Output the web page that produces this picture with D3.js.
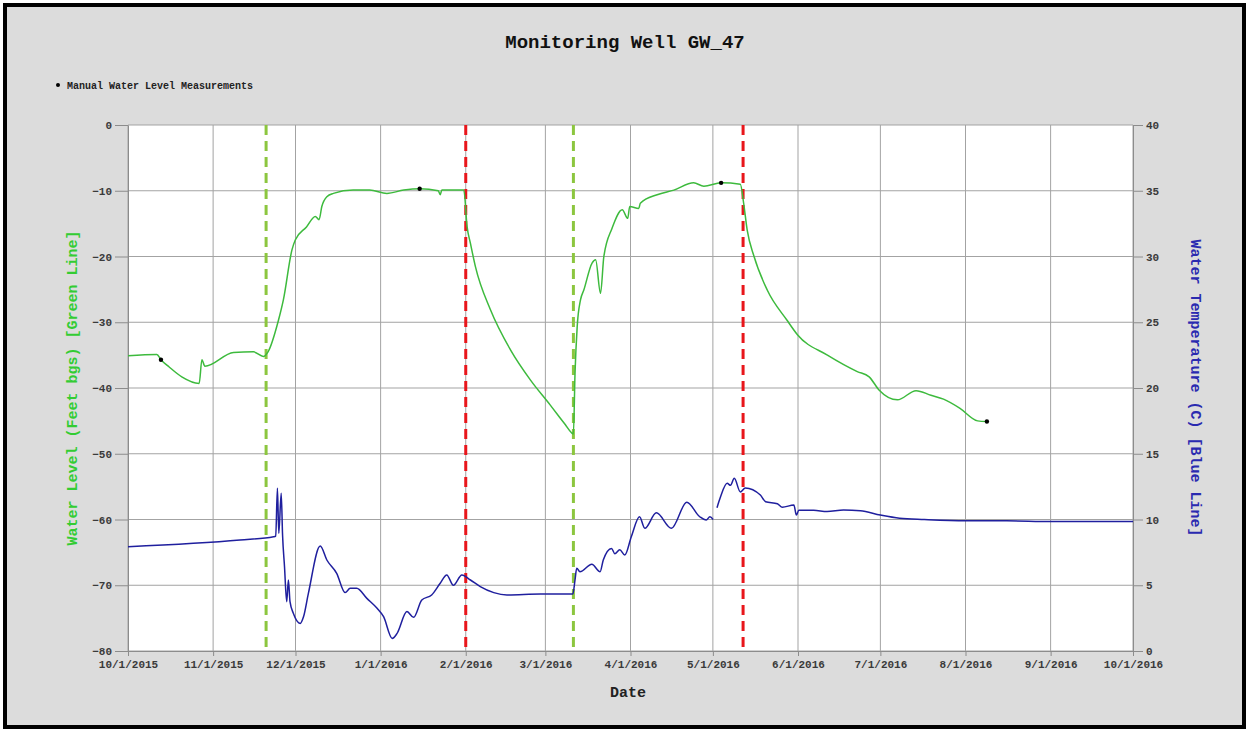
<!DOCTYPE html>
<html>
<head>
<meta charset="utf-8">
<script src="https://cdn.jsdelivr.net/npm/d3@7"></script>
<style>
  body { margin: 0; background: #fff; }
  text { font-family: "Liberation Mono", "DejaVu Sans Mono", monospace; font-weight: bold; }
</style>
</head>
<body>
<figure id="chart" style="margin:0"></figure>
<script>
// water level (feet bgs), green line
const waterLevel = [
  ["2015-10-01 00", -35.1], ["2015-10-11 12", -34.9], ["2015-10-13 00", -35.7], ["2015-10-16 00", -36.8],
  ["2015-10-20 14", -38.3], ["2015-10-26 22", -39.3], ["2015-10-27 22", -35.7], ["2015-10-29 00", -36.7],
  ["2015-11-08 10", -34.6], ["2015-11-15 17", -34.5], ["2015-11-19 07", -35.2], ["2015-11-21 00", -34.5],
  ["2015-11-24 19", -29.7], ["2015-11-26 14", -26.6], ["2015-11-29 17", -19.0], ["2015-11-30 22", -17.5],
  ["2015-12-05 00", -15.5], ["2015-12-08 05", -13.9], ["2015-12-09 14", -14.4], ["2015-12-10 14", -12.4],
  ["2015-12-12 10", -10.9], ["2015-12-14 19", -10.4], ["2015-12-22 00", -9.9], ["2015-12-28 00", -9.9],
  ["2016-01-03 07", -10.4], ["2016-01-09 10", -9.9], ["2016-01-15 05", -9.7], ["2016-01-22 00", -10.0],
  ["2016-01-22 17", -10.6], ["2016-01-23 07", -9.9], ["2016-01-31 07", -9.9], ["2016-02-01 12", -15.5],
  ["2016-02-02 17", -18.0], ["2016-02-04 12", -21.5], ["2016-02-10 00", -28.1], ["2016-02-17 07", -34.2],
  ["2016-02-24 14", -38.8], ["2016-03-02 19", -42.6], ["2016-03-08 07", -45.6], ["2016-03-10 12", -46.8],
  ["2016-03-11 05", -47.0], ["2016-03-11 19", -37.8], ["2016-03-12 14", -30.7], ["2016-03-13 19", -26.6],
  ["2016-03-15 00", -25.1], ["2016-03-18 00", -21.0], ["2016-03-19 07", -20.5], ["2016-03-21 02", -25.6],
  ["2016-03-22 07", -20.0], ["2016-03-25 07", -15.7], ["2016-03-29 00", -12.9], ["2016-03-31 00", -14.2],
  ["2016-03-31 17", -12.4], ["2016-04-04 00", -12.7], ["2016-04-04 14", -11.9], ["2016-04-10 17", -10.6],
  ["2016-04-16 19", -9.9], ["2016-04-24 00", -8.8], ["2016-04-27 17", -9.3], ["2016-05-04 00", -8.8],
  ["2016-05-11 00", -9.0], ["2016-05-12 05", -11.9], ["2016-05-13 12", -16.0], ["2016-05-16 00", -20.0],
  ["2016-05-20 19", -25.1], ["2016-05-28 00", -29.7], ["2016-05-31 19", -31.9], ["2016-06-11 17", -35.0],
  ["2016-06-22 14", -37.5], ["2016-06-26 22", -38.3], ["2016-06-30 12", -40.3], ["2016-07-07 05", -41.8],
  ["2016-07-14 00", -40.4], ["2016-07-19 10", -41.1], ["2016-07-24 00", -41.7], ["2016-07-30 00", -43.1],
  ["2016-08-05 10", -45.0], ["2016-08-08 19", -45.1]
];

// water temperature (C), blue line; null = gap in record
const waterTemp = [
  ["2015-10-01 00", 7.93], ["2015-11-10 19", 8.44], ["2015-11-23 00", 8.69], ["2015-11-23 19", 8.74],
  ["2015-11-24 10", 12.37], ["2015-11-24 22", 8.95], ["2015-11-25 19", 12.0], ["2015-11-26 07", 8.8],
  ["2015-11-27 00", 6.41], ["2015-11-27 19", 3.75], ["2015-11-28 10", 5.4], ["2015-11-29 00", 3.75],
  ["2015-11-30 05", 2.87], ["2015-12-02 17", 2.1], ["2015-12-03 22", 2.6], ["2015-12-05 17", 4.4],
  ["2015-12-10 00", 7.98], ["2015-12-12 10", 6.92], ["2015-12-16 00", 5.91], ["2015-12-19 02", 4.44],
  ["2015-12-20 22", 4.77], ["2015-12-23 07", 4.77], ["2015-12-27 00", 4.0], ["2015-12-30 17", 3.25],
  ["2016-01-02 02", 2.61], ["2016-01-05 05", 0.96], ["2016-01-07 00", 1.34], ["2016-01-10 14", 3.0],
  ["2016-01-13 00", 2.56], ["2016-01-16 00", 3.88], ["2016-01-19 14", 4.26], ["2016-01-22 17", 5.15],
  ["2016-01-25 02", 5.78], ["2016-01-27 12", 5.0], ["2016-01-30 14", 5.78], ["2016-02-02 17", 5.4],
  ["2016-02-06 07", 4.9], ["2016-02-11 05", 4.44], ["2016-02-16 00", 4.26], ["2016-02-28 05", 4.33],
  ["2016-03-11 00", 4.33], ["2016-03-11 19", 5.4], ["2016-03-12 10", 6.29], ["2016-03-13 14", 6.03],
  ["2016-03-17 22", 6.6], ["2016-03-20 22", 6.03], ["2016-03-22 02", 6.92], ["2016-03-25 02", 7.8],
  ["2016-03-26 07", 7.4], ["2016-03-28 02", 7.7], ["2016-03-29 22", 7.3], ["2016-04-01 07", 8.69],
  ["2016-04-04 07", 10.2], ["2016-04-06 05", 9.33], ["2016-04-10 10", 10.51], ["2016-04-15 22", 9.33],
  ["2016-04-21 12", 11.31], ["2016-04-26 05", 10.21], ["2016-04-28 14", 9.96], ["2016-04-29 22", 10.21],
  ["2016-05-01 02", 10.0], ["2016-05-01 20", null], ["2016-05-02 12", 10.9], ["2016-05-03 19", 11.73],
  ["2016-05-06 05", 12.75], ["2016-05-07 10", 12.6], ["2016-05-08 19", 13.13], ["2016-05-11 00", 12.1],
  ["2016-05-12 19", 12.4], ["2016-05-18 07", 11.86], ["2016-05-20 05", 11.35], ["2016-05-24 12", 11.2],
  ["2016-05-26 07", 10.93], ["2016-05-30 12", 11.1], ["2016-05-31 10", 10.34], ["2016-06-01 07", 10.7],
  ["2016-06-06 17", 10.7], ["2016-06-11 14", 10.6], ["2016-06-17 14", 10.72], ["2016-06-23 17", 10.67],
  ["2016-07-01 00", 10.34], ["2016-07-08 00", 10.1], ["2016-07-17 00", 10.0], ["2016-08-01 00", 9.9],
  ["2016-08-16 00", 9.9], ["2016-09-01 00", 9.85], ["2016-09-15 00", 9.85], ["2016-10-01 00", 9.85]
];

const manualMeasurements = [
  ["2015-10-13 00", -35.7], ["2016-01-15 05", -9.7], ["2016-05-04 00", -8.8], ["2016-08-08 19", -45.1]
];

// green = recovery start, red = pumping start
const greenMarkers = ["2015-11-20 07", "2016-03-11 05"];
const redMarkers = ["2016-02-01 00", "2016-05-12 00"];

const levelTicks = [0, -10, -20, -30, -40, -50, -60, -70, -80];
const tempTicks = [40, 35, 30, 25, 20, 15, 10, 5, 0];
const dateDomain = ["2015-10-01 00", "2016-10-01 00"];

const W = 1249, H = 732;
const plot = {left: 128, right: 1133, top: 125, bottom: 651};
const parse = d3.timeParse("%Y-%m-%d %H");

const svg = d3.select("figure#chart")
  .append("svg")
  .attr("width", W)
  .attr("height", H);

// frame
svg.append("rect")
  .attr("x", 5).attr("y", 5)
  .attr("width", W - 10).attr("height", H - 10)
  .attr("fill", "#dcdcdc")
  .attr("stroke", "#000")
  .attr("stroke-width", 4);

svg.append("rect")
  .attr("x", plot.left).attr("y", plot.top)
  .attr("width", plot.right - plot.left).attr("height", plot.bottom - plot.top)
  .attr("fill", "#fff");

const x = d3.scaleTime()
  .domain(dateDomain.map(parse))
  .range([plot.left, plot.right]);
const yLevel = d3.scaleLinear()
  .domain([-80, 0])
  .range([plot.bottom, plot.top]);
const yTemp = d3.scaleLinear()
  .domain([0, 40])
  .range([plot.bottom, plot.top]);

const months = d3.timeMonth.range(x.domain()[0], d3.timeDay.offset(x.domain()[1], 1));

// grid
const grid = svg.append("g").attr("stroke", "#a3a3a3").attr("stroke-width", 1);
grid.selectAll(".v").data(months).join("line")
  .attr("x1", d => x(d)).attr("x2", d => x(d))
  .attr("y1", plot.top).attr("y2", plot.bottom);
grid.selectAll(".h").data(levelTicks).join("line")
  .attr("x1", plot.left).attr("x2", plot.right)
  .attr("y1", d => yLevel(d)).attr("y2", d => yLevel(d));

const styleAxis = g => {
  g.selectAll("path, line").attr("stroke", "#8c8c8c");
  g.selectAll("text")
    .attr("fill", "#3a3a3a")
    .style("font-size", "11px")
    .style("font-family", "'Liberation Mono', monospace")
    .style("font-weight", "bold");
};

svg.append("g")
  .attr("transform", `translate(${plot.left},0)`)
  .call(d3.axisLeft(yLevel).tickValues(levelTicks).tickSize(13).tickSizeOuter(0).tickPadding(3))
  .call(styleAxis);

svg.append("g")
  .attr("transform", `translate(${plot.right},0)`)
  .call(d3.axisRight(yTemp).tickValues(tempTicks).tickSize(10).tickSizeOuter(0).tickPadding(3))
  .call(styleAxis);

svg.append("g")
  .attr("transform", `translate(0,${plot.bottom})`)
  .call(d3.axisBottom(x).tickValues(months).tickFormat(d3.timeFormat("%-m/%-d/%Y"))
    .tickSize(5).tickSizeOuter(0).tickPadding(4))
  .call(styleAxis);

// dashed event markers
const markers = greenMarkers.map(d => ({d, c: "#8cc63f"}))
  .concat(redMarkers.map(d => ({d, c: "#e8161b"})));
svg.append("g").selectAll("line").data(markers).join("line")
  .attr("x1", m => x(parse(m.d))).attr("x2", m => x(parse(m.d)))
  .attr("y1", plot.top).attr("y2", plot.bottom - 2)
  .attr("stroke", m => m.c)
  .attr("stroke-width", 3)
  .attr("stroke-dasharray", "10,6");

const levelLine = d3.line()
  .curve(d3.curveMonotoneX)
  .x(d => x(parse(d[0])))
  .y(d => yLevel(d[1]));
const tempLine = d3.line()
  .curve(d3.curveMonotoneX)
  .defined(d => d[1] !== null)
  .x(d => x(parse(d[0])))
  .y(d => yTemp(d[1]));

svg.append("path")
  .datum(waterLevel)
  .attr("d", levelLine)
  .attr("fill", "none")
  .attr("stroke", "#3dba3d")
  .attr("stroke-width", 1.5);

svg.append("path")
  .datum(waterTemp)
  .attr("d", tempLine)
  .attr("fill", "none")
  .attr("stroke", "#1f1f9e")
  .attr("stroke-width", 1.5);

svg.append("g").selectAll("circle").data(manualMeasurements).join("circle")
  .attr("cx", d => x(parse(d[0])))
  .attr("cy", d => yLevel(d[1]))
  .attr("r", 2.2)
  .attr("fill", "#000");

// titles
svg.append("text")
  .attr("x", 625).attr("y", 48)
  .attr("text-anchor", "middle")
  .style("font-size", "19px")
  .attr("fill", "#111")
  .text("Monitoring Well GW_47");

svg.append("circle").attr("cx", 58).attr("cy", 85).attr("r", 2).attr("fill", "#000");
svg.append("text")
  .attr("x", 67).attr("y", 88.5)
  .style("font-size", "10px")
  .attr("fill", "#222")
  .text("Manual Water Level Measurements");

svg.append("text")
  .attr("transform", `translate(77,${(plot.top + plot.bottom) / 2}) rotate(-90)`)
  .attr("text-anchor", "middle")
  .style("font-size", "15px")
  .attr("fill", "#33cc33")
  .text("Water Level (Feet bgs) [Green Line]");

svg.append("text")
  .attr("transform", `translate(1191,${(plot.top + plot.bottom) / 2}) rotate(90)`)
  .attr("text-anchor", "middle")
  .style("font-size", "15px")
  .attr("fill", "#2a2ab0")
  .text("Water Temperature (C) [Blue Line]");

svg.append("text")
  .attr("x", 628).attr("y", 697)
  .attr("text-anchor", "middle")
  .style("font-size", "15px")
  .attr("fill", "#222")
  .text("Date");
</script>
</body>
</html>
